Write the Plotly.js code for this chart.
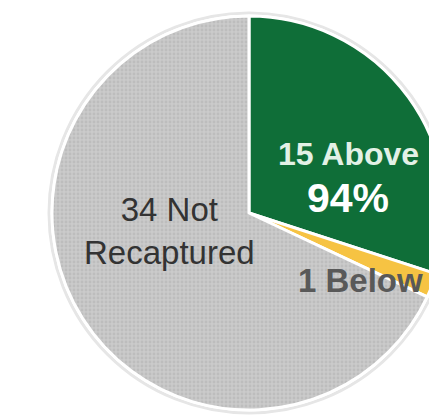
<!DOCTYPE html>
<html>
<head>
<meta charset="utf-8">
<script src="https://cdn.plot.ly/plotly-3.0.1.min.js"></script>
<style>
  html, body { margin: 0; padding: 0; overflow: hidden; background: #ffffff; }
  #chart { width: 500px; height: 420px; }
</style>
</head>
<body>
<div id="chart"></div>
<script>
// ---- data ----
var categories = ["Above", "Below", "Not Recaptured"];
var counts = [15, 1, 34];
var sliceColors = ["#0f6e38", "#f6c343", "#c9c9c9"];

// ---- derived label text ----
var recaptured = counts[0] + counts[1];
var pctAbove = Math.round(100 * counts[0] / recaptured) + "%";

// ---- geometry (pixels) ----
var W = 500, H = 420;
var cx = 249, cy = 213, R = 197;
var mL = cx - R, mT = cy - R;
var mR = W - (cx + R), mB = H - (cy + R);
function px(x) { return (x - mL) / (2 * R); }
function py(y) { return 1 - (y - mT) / (2 * R); }

var fam = "'Liberation Sans', Arial, sans-serif";

var trace = {
  type: "pie",
  labels: categories,
  values: counts,
  sort: false,
  direction: "clockwise",
  rotation: 0,
  textinfo: "none",
  hoverinfo: "label+value",
  showlegend: false,
  marker: {
    colors: sliceColors,
    line: { color: "#ffffff", width: 3 },
    pattern: {
      shape: ["", "", "."],
      bgcolor: ["#0f6e38", "#f6c343", "#cbcbcb"],
      fgcolor: "#bdbdbd",
      fgopacity: 1,
      size: 4,
      solidity: 0.4
    }
  }
};

var annotations = [
  { text: "<b>" + counts[0] + " " + categories[0] + "</b>", x: px(348), y: py(154),
    font: { family: fam, size: 32, color: "#e3f1e6" } },
  { text: "<b>" + pctAbove + "</b>", x: px(348), y: py(198),
    font: { family: fam, size: 41, color: "#ffffff" } },
  { text: "<b>" + counts[1] + " " + categories[1] + "</b>", x: px(360), y: py(280),
    font: { family: fam, size: 33, color: "#595959" } },
  { text: counts[2] + " Not<br>" + "Recaptured", x: px(169), y: py(231),
    font: { family: fam, size: 33, color: "#333333" } }
].map(function (a) {
  a.xref = "paper"; a.yref = "paper";
  a.xanchor = "center"; a.yanchor = "middle";
  a.showarrow = false; a.align = "center";
  return a;
});

var shapes = [{
  type: "circle", xref: "paper", yref: "paper", layer: "below",
  x0: px(cx - R - 3), x1: px(cx + R + 3), y0: py(cy + R + 3), y1: py(cy - R - 3),
  line: { color: "#e6e6e6", width: 3 }, fillcolor: "rgba(0,0,0,0)"
}];

var layout = {
  width: W, height: H,
  margin: { l: mL, r: mR, t: mT, b: mB, pad: 0 },
  paper_bgcolor: "#ffffff",
  plot_bgcolor: "#ffffff",
  showlegend: false,
  annotations: annotations,
  shapes: shapes
};

Plotly.newPlot("chart", [trace], layout, { displayModeBar: false, staticPlot: true });
</script>
</body>
</html>
